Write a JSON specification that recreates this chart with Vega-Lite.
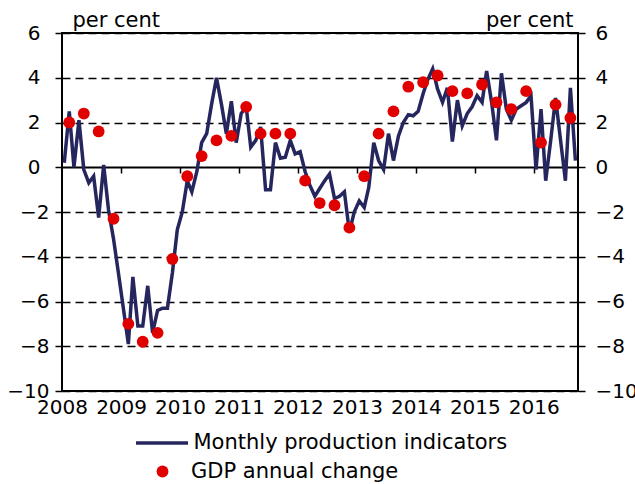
{
  "$schema": "https://vega.github.io/schema/vega-lite/v6.json",
  "width": 516,
  "height": 358,
  "autosize": {"type": "none"},
  "padding": {"left": 62, "top": 33, "right": 57, "bottom": 93},
  "background": "white",
  "config": {
    "font": "DejaVu Sans",
    "view": {"stroke": "black", "strokeWidth": 2},
    "axis": {"labelFont": "DejaVu Sans", "labelFontSize": 20, "labelColor": "black", "titleFont": "DejaVu Sans", "titleFontSize": 21, "titleFontWeight": "normal", "titleColor": "black", "labelOverlap": false, "labelFlush": false, "labelBound": false},
    "legend": {"labelFont": "DejaVu Sans", "labelFontSize": 21, "labelColor": "black", "padding": 0, "labelLimit": 600}
  },
  "datasets": {
    "monthly": [
      {"date": "2008-01-15", "value": 0.2}, {"date": "2008-02-15", "value": 2.5}, {"date": "2008-03-15", "value": 0.0}, {"date": "2008-04-15", "value": 2.1},
      {"date": "2008-05-15", "value": -0.1}, {"date": "2008-06-15", "value": -0.7}, {"date": "2008-07-15", "value": -0.4}, {"date": "2008-08-15", "value": -2.25},
      {"date": "2008-09-15", "value": 0.1}, {"date": "2008-10-15", "value": -1.9}, {"date": "2008-11-15", "value": -3.2}, {"date": "2008-12-15", "value": -4.7},
      {"date": "2009-01-15", "value": -6.3}, {"date": "2009-02-15", "value": -7.9}, {"date": "2009-03-15", "value": -4.9}, {"date": "2009-04-15", "value": -7.1},
      {"date": "2009-05-15", "value": -7.1}, {"date": "2009-06-15", "value": -5.3}, {"date": "2009-07-15", "value": -7.4}, {"date": "2009-08-15", "value": -6.4},
      {"date": "2009-09-15", "value": -6.3}, {"date": "2009-10-15", "value": -6.3}, {"date": "2009-11-15", "value": -4.7}, {"date": "2009-12-15", "value": -2.8},
      {"date": "2010-01-15", "value": -2.0}, {"date": "2010-02-15", "value": -0.6}, {"date": "2010-03-15", "value": -1.1}, {"date": "2010-04-15", "value": -0.2},
      {"date": "2010-05-15", "value": 1.1}, {"date": "2010-06-15", "value": 1.5}, {"date": "2010-07-15", "value": 2.8}, {"date": "2010-08-15", "value": 4.0},
      {"date": "2010-09-15", "value": 2.8}, {"date": "2010-10-15", "value": 1.5}, {"date": "2010-11-15", "value": 2.95}, {"date": "2010-12-15", "value": 1.1},
      {"date": "2011-01-15", "value": 2.4}, {"date": "2011-02-15", "value": 2.7}, {"date": "2011-03-15", "value": 0.9}, {"date": "2011-04-15", "value": 1.2},
      {"date": "2011-05-15", "value": 1.8}, {"date": "2011-06-15", "value": -1.0}, {"date": "2011-07-15", "value": -1.0}, {"date": "2011-08-15", "value": 1.1},
      {"date": "2011-09-15", "value": 0.4}, {"date": "2011-10-15", "value": 0.45}, {"date": "2011-11-15", "value": 1.2}, {"date": "2011-12-15", "value": 0.6},
      {"date": "2012-01-15", "value": 0.7}, {"date": "2012-02-15", "value": -0.2}, {"date": "2012-03-15", "value": -0.8}, {"date": "2012-04-15", "value": -1.3},
      {"date": "2012-05-15", "value": -0.95}, {"date": "2012-06-15", "value": -0.6}, {"date": "2012-07-15", "value": -0.3}, {"date": "2012-08-15", "value": -1.4},
      {"date": "2012-09-15", "value": -1.3}, {"date": "2012-10-15", "value": -1.1}, {"date": "2012-11-15", "value": -2.9}, {"date": "2012-12-15", "value": -2.0},
      {"date": "2013-01-15", "value": -1.5}, {"date": "2013-02-15", "value": -1.8}, {"date": "2013-03-15", "value": -0.9}, {"date": "2013-04-15", "value": 1.1},
      {"date": "2013-05-15", "value": 0.3}, {"date": "2013-06-15", "value": -0.1}, {"date": "2013-07-15", "value": 1.5}, {"date": "2013-08-15", "value": 0.3},
      {"date": "2013-09-15", "value": 1.4}, {"date": "2013-10-15", "value": 2.0}, {"date": "2013-11-15", "value": 2.35}, {"date": "2013-12-15", "value": 2.3},
      {"date": "2014-01-15", "value": 2.5}, {"date": "2014-02-15", "value": 3.3}, {"date": "2014-03-15", "value": 3.9}, {"date": "2014-04-15", "value": 4.4},
      {"date": "2014-05-15", "value": 3.5}, {"date": "2014-06-15", "value": 2.9}, {"date": "2014-07-15", "value": 3.55}, {"date": "2014-08-15", "value": 1.15},
      {"date": "2014-09-15", "value": 3.0}, {"date": "2014-10-15", "value": 1.85}, {"date": "2014-11-15", "value": 2.4}, {"date": "2014-12-15", "value": 2.7},
      {"date": "2015-01-15", "value": 3.2}, {"date": "2015-02-15", "value": 2.9}, {"date": "2015-03-15", "value": 4.3}, {"date": "2015-04-15", "value": 2.9},
      {"date": "2015-05-15", "value": 1.2}, {"date": "2015-06-15", "value": 4.2}, {"date": "2015-07-15", "value": 2.6}, {"date": "2015-08-15", "value": 2.1},
      {"date": "2015-09-15", "value": 2.6}, {"date": "2015-10-15", "value": 2.75}, {"date": "2015-11-15", "value": 2.9}, {"date": "2015-12-15", "value": 3.2},
      {"date": "2016-01-15", "value": -0.1}, {"date": "2016-02-15", "value": 2.6}, {"date": "2016-03-15", "value": -0.6}, {"date": "2016-04-15", "value": 1.2},
      {"date": "2016-05-15", "value": 3.1}, {"date": "2016-06-15", "value": 1.2}, {"date": "2016-07-15", "value": -0.6}, {"date": "2016-08-15", "value": 3.55},
      {"date": "2016-09-15", "value": 0.3}
    ],
    "gdp": [
      {"date": "2008-02-15", "value": 2.0}, {"date": "2008-05-15", "value": 2.4}, {"date": "2008-08-15", "value": 1.6}, {"date": "2008-11-15", "value": -2.3},
      {"date": "2009-02-15", "value": -7.0}, {"date": "2009-05-15", "value": -7.8}, {"date": "2009-08-15", "value": -7.4}, {"date": "2009-11-15", "value": -4.1},
      {"date": "2010-02-15", "value": -0.4}, {"date": "2010-05-15", "value": 0.5}, {"date": "2010-08-15", "value": 1.2}, {"date": "2010-11-15", "value": 1.4},
      {"date": "2011-02-15", "value": 2.7}, {"date": "2011-05-15", "value": 1.5}, {"date": "2011-08-15", "value": 1.5}, {"date": "2011-11-15", "value": 1.5},
      {"date": "2012-02-15", "value": -0.6}, {"date": "2012-05-15", "value": -1.6}, {"date": "2012-08-15", "value": -1.7}, {"date": "2012-11-15", "value": -2.7},
      {"date": "2013-02-15", "value": -0.4}, {"date": "2013-05-15", "value": 1.5}, {"date": "2013-08-15", "value": 2.5}, {"date": "2013-11-15", "value": 3.6},
      {"date": "2014-02-15", "value": 3.8}, {"date": "2014-05-15", "value": 4.1}, {"date": "2014-08-15", "value": 3.4}, {"date": "2014-11-15", "value": 3.3},
      {"date": "2015-02-15", "value": 3.7}, {"date": "2015-05-15", "value": 2.9}, {"date": "2015-08-15", "value": 2.6}, {"date": "2015-11-15", "value": 3.4},
      {"date": "2016-02-15", "value": 1.1}, {"date": "2016-05-15", "value": 2.8}, {"date": "2016-08-15", "value": 2.2}
    ]
  },
  "layer": [
    {
      "data": {"name": "monthly"},
      "mark": {"type": "line", "strokeWidth": 3.5, "interpolate": "linear"},
      "encoding": {
        "x": {
          "field": "date", "type": "temporal",
          "scale": {"type": "utc", "domain": [{"year": 2008, "month": 1, "date": 1, "utc": true}, {"year": 2016, "month": 10, "date": 1, "utc": true}]},
          "axis": {
            "orient": "bottom", "offset": -224, "title": null, "labels": false, "domain": false, "grid": false,
            "ticks": true, "tickSize": 6, "tickWidth": 1.5, "tickColor": "black",
            "values": [
              {"year": 2009, "month": 1, "date": 1, "utc": true}, {"year": 2010, "month": 1, "date": 1, "utc": true},
              {"year": 2011, "month": 1, "date": 1, "utc": true}, {"year": 2012, "month": 1, "date": 1, "utc": true},
              {"year": 2013, "month": 1, "date": 1, "utc": true}, {"year": 2014, "month": 1, "date": 1, "utc": true},
              {"year": 2015, "month": 1, "date": 1, "utc": true}, {"year": 2016, "month": 1, "date": 1, "utc": true}
            ]
          }
        },
        "y": {
          "field": "value", "type": "quantitative",
          "scale": {"domain": [-10, 6], "nice": false, "zero": false},
          "axis": {
            "orient": "left", "values": [-10, -8, -6, -4, -2, 0, 2, 4, 6],
            "grid": true, "gridColor": "black",
            "gridWidth": {"condition": {"test": "datum.value === 0", "value": 2}, "value": 1.5},
            "gridDash": {"condition": {"test": "datum.value === 0", "value": []}, "value": [8, 5]},
            "domain": false, "ticks": true, "tickSize": 7, "tickWidth": 1.5, "tickColor": "black",
            "labelAlign": "right", "labelBaseline": "middle",
            "labelPadding": {"condition": {"test": "datum.value >= 0", "value": 15}, "value": 6},
            "title": "per cent", "titleAngle": 0, "titleAlign": "left", "titleBaseline": "alphabetic", "titleX": 10, "titleY": -7
          }
        },
        "stroke": {
          "datum": "Monthly production indicators", "type": "nominal",
          "scale": {"range": ["#26265E"]},
          "legend": {"orient": "none", "legendX": 72, "legendY": 382, "title": null, "symbolType": "stroke", "symbolSize": 2704, "symbolStrokeWidth": 3.5, "labelOffset": 3.5}
        }
      }
    },
    {
      "data": {"name": "gdp"},
      "mark": {"type": "circle", "size": 140, "opacity": 1},
      "encoding": {
        "x": {
          "field": "date", "type": "temporal",
          "scale": {"type": "utc", "domain": [{"year": 2008, "month": 1, "date": 1, "utc": true}, {"year": 2016, "month": 10, "date": 1, "utc": true}]},
          "axis": {
            "orient": "bottom", "title": null, "domain": false, "grid": false, "ticks": false,
            "format": "%Y", "labelPadding": 6, "labelFontSize": 20,
            "values": [
              {"year": 2008, "month": 1, "date": 1, "utc": true},
              {"year": 2009, "month": 1, "date": 1, "utc": true}, {"year": 2010, "month": 1, "date": 1, "utc": true},
              {"year": 2011, "month": 1, "date": 1, "utc": true}, {"year": 2012, "month": 1, "date": 1, "utc": true},
              {"year": 2013, "month": 1, "date": 1, "utc": true}, {"year": 2014, "month": 1, "date": 1, "utc": true},
              {"year": 2015, "month": 1, "date": 1, "utc": true}, {"year": 2016, "month": 1, "date": 1, "utc": true}
            ]
          }
        },
        "y": {
          "field": "value", "type": "quantitative",
          "scale": {"domain": [-10, 6], "nice": false, "zero": false},
          "axis": {
            "orient": "right", "values": [-10, -8, -6, -4, -2, 0, 2, 4, 6],
            "grid": false, "domain": false, "ticks": true, "tickSize": 7, "tickWidth": 1.5, "tickColor": "black",
            "labelAlign": "left", "labelBaseline": "middle", "labelPadding": 10,
            "title": "per cent", "titleAngle": 0, "titleAlign": "right", "titleBaseline": "alphabetic", "titleX": -5, "titleY": -7
          }
        },
        "fill": {
          "datum": "GDP annual change", "type": "nominal",
          "scale": {"range": ["#E00000"]},
          "legend": {"orient": "none", "legendX": 90, "legendY": 428, "title": null, "symbolType": "circle", "symbolSize": 140, "symbolStrokeWidth": 0, "labelOffset": 18}
        }
      }
    }
  ],
  "resolve": {"axis": {"x": "independent", "y": "independent"}, "legend": {"stroke": "independent", "fill": "independent"}}
}
